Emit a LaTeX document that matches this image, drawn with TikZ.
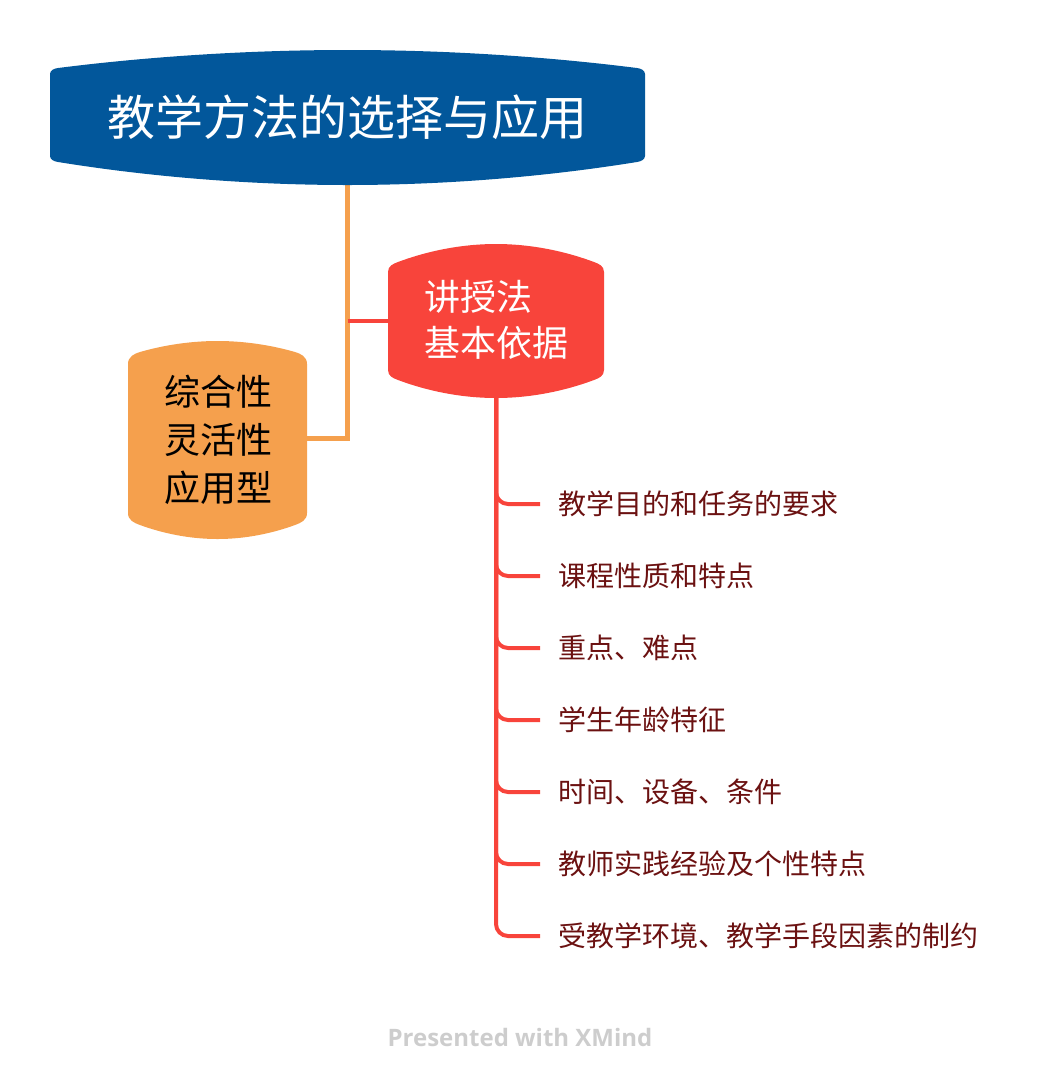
\documentclass[tikz,border=0pt]{standalone}
\usepackage{fontspec}
\newfontfamily\cjk{Noto Sans CJK SC}
\newfontfamily\footfont{Open Sans}
\usetikzlibrary{calc,backgrounds}
\definecolor{tblue}{HTML}{02579B}
\definecolor{tred}{HTML}{F8443B}
\definecolor{torange}{HTML}{F5A04D}
\definecolor{leaftext}{HTML}{6B1111}
\definecolor{footgray}{HTML}{CDCDCD}
% #1 node, #2 colour, #3 corner width, #4 corner rise, #5 top bulge, #6 bottom bulge
\newcommand{\bulgeshape}[6]{%
 \pgfpointanchor{#1}{north west}\pgfgetlastxy{\bxL}{\bxT}%
 \pgfpointanchor{#1}{south east}\pgfgetlastxy{\bxR}{\bxB}%
 \pgfmathsetmacro{\bL}{\bxL}\pgfmathsetmacro{\bR}{\bxR}%
 \pgfmathsetmacro{\bT}{\bxT}\pgfmathsetmacro{\bB}{\bxB}%
 \pgfmathsetmacro{\bM}{(\bL+\bR)/2}%
 \pgfmathsetmacro{\sT}{4*#5/(\bR-\bL-2*#3)}%
 \pgfmathsetmacro{\sB}{4*#6/(\bR-\bL-2*#3)}%
 \pgfmathsetmacro{\kk}{#3/2}%
 \pgfmathsetmacro{\xLc}{\bL+#3}\pgfmathsetmacro{\xLk}{\bL+#3-\kk}%
 \pgfmathsetmacro{\xRc}{\bR-#3}\pgfmathsetmacro{\xRk}{\bR-#3+\kk}%
 \pgfmathsetmacro{\yTa}{\bT+0.6*#4}\pgfmathsetmacro{\yTd}{\bT+#4}%
 \pgfmathsetmacro{\yTk}{\bT+#4-\kk*\sT}\pgfmathsetmacro{\yTb}{\bT+#4+#5}%
 \pgfmathsetmacro{\yBa}{\bB-0.6*#4}\pgfmathsetmacro{\yBd}{\bB-#4}%
 \pgfmathsetmacro{\yBk}{\bB-#4+\kk*\sB}\pgfmathsetmacro{\yBb}{\bB-#4-#6}%
 \fill[#2] (\bL pt,\bT pt) .. controls (\bL pt,\yTa pt) and (\xLk pt,\yTk pt) .. (\xLc pt,\yTd pt)
   parabola bend (\bM pt,\yTb pt) (\xRc pt,\yTd pt)
   .. controls (\xRk pt,\yTk pt) and (\bR pt,\yTa pt) .. (\bR pt,\bT pt)
   -- (\bR pt,\bB pt) .. controls (\bR pt,\yBa pt) and (\xRk pt,\yBk pt) .. (\xRc pt,\yBd pt)
   parabola bend (\bM pt,\yBb pt) (\xLc pt,\yBd pt)
   .. controls (\xLk pt,\yBk pt) and (\bL pt,\yBa pt) .. (\bL pt,\bB pt) -- cycle;}
\tikzset{
  box/.style={inner sep=0pt, outer sep=0pt},
  leaf/.style={anchor=west, inner sep=0pt, text=leaftext, font=\cjk\fontsize{28}{34}\selectfont},
  redline/.style={draw=tred, line width=4pt},
  orangeline/.style={draw=torange, line width=5pt},
}
\begin{document}
\begin{tikzpicture}[x=1pt,y=-1pt]
\useasboundingbox (0,0) rectangle (1040,1088);
% boxes
\node[box, minimum width=595pt, minimum height=82pt] (title) at (347.5,115) {};
\node[box, text=white, font=\cjk\fontsize{48}{58}\selectfont] (titletext) at (347.5,117) {教学方法的选择与应用};
\node[box, minimum width=216pt, minimum height=98pt] (jsf) at (496,321) {};
\node[box, text=white, align=left, font=\cjk\fontsize{36}{46}\selectfont] (jsftext) at (496,320) {讲授法\\基本依据};
\node[box, minimum width=179pt, minimum height=149pt] (zh) at (217.5,438.5) {};
\node[box, text=black, align=center, font=\cjk\fontsize{36}{48}\selectfont] (zhtext) at (218,440) {综合性\\灵活性\\应用型};
% leaves
\node[leaf] (l1) at (558,504) {教学目的和任务的要求};
\node[leaf] (l2) at (558,576) {课程性质和特点};
\node[leaf] (l3) at (558,648) {重点、难点};
\node[leaf] (l4) at (558,720) {学生年龄特征};
\node[leaf] (l5) at (558,792) {时间、设备、条件};
\node[leaf] (l6) at (558,864) {教师实践经验及个性特点};
\node[leaf] (l7) at (558,936) {受教学环境、教学手段因素的制约};
\node[text=footgray, font=\footfont\bfseries\fontsize{24}{28}\selectfont] (foot) at (520,1037) {Presented with XMind};
\begin{scope}[on background layer]
\draw[orangeline] (title.south) |- (zh.east);
\draw[redline] (title.south |- jsf.west) -- (jsf.west);
\foreach \i in {1,...,7}{
  \draw[redline, rounded corners=12pt] (jsf.south) |- ([xshift=-18pt]l\i.west);
}
\bulgeshape{title}{tblue}{8}{6}{18}{23}
\bulgeshape{jsf}{tred}{10}{10}{18}{18}
\bulgeshape{zh}{torange}{12}{12}{11}{14}
\end{scope}
\end{tikzpicture}
\end{document}
